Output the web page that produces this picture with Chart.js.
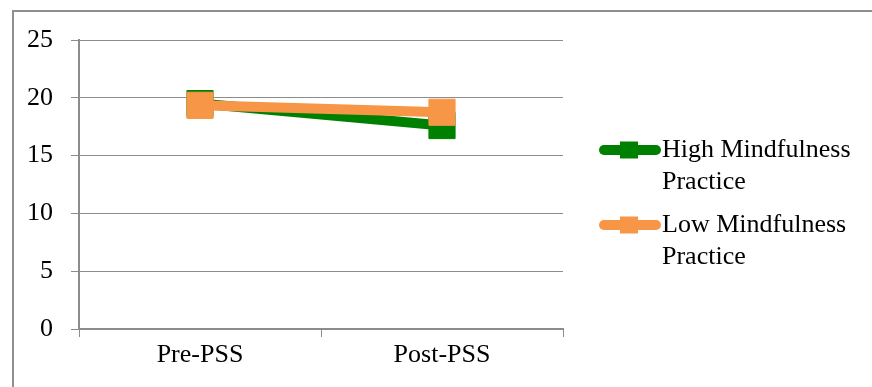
<!DOCTYPE html>
<html>
<head>
<meta charset="utf-8">
<script src="https://cdn.jsdelivr.net/npm/chart.js@4.4.1/dist/chart.umd.min.js"></script>
<style>
  html, body { margin: 0; padding: 0; background: #fff; }
  #wrap { width: 872px; height: 387px; }
</style>
</head>
<body>
<div id="wrap"><canvas id="pssChart" width="872" height="387"></canvas></div>
<script>
const categories = ["Pre-PSS", "Post-PSS"];
const seriesNames = ["High Mindfulness Practice", "Low Mindfulness Practice"];
const highValues = [19.5, 17.6];
const lowValues = [19.35, 18.75];
const yTicks = [0, 5, 10, 15, 20, 25];

const GREEN = "#008000";
const ORANGE = "#F79646";
const GRID = "#8c8c8c";
const FONT = "'Liberation Serif', 'Times New Roman', serif";

// outer frame of the chart box (only top and left edges are visible)
const framePlugin = {
  id: "frame",
  beforeDraw(chart) {
    const ctx = chart.ctx;
    ctx.save();
    ctx.strokeStyle = "#8f8f8f";
    ctx.lineWidth = 2;
    ctx.beginPath();
    ctx.moveTo(13, 400);
    ctx.lineTo(13, 11);
    ctx.lineTo(900, 11);
    ctx.stroke();
    ctx.restore();
  }
};

function wrapText(ctx, text, maxW) {
  const words = text.split(" ");
  const lines = [];
  let cur = "";
  words.forEach(w => {
    const test = cur ? cur + " " + w : w;
    if (ctx.measureText(test).width > maxW && cur) {
      lines.push(cur);
      cur = w;
    } else {
      cur = test;
    }
  });
  if (cur) lines.push(cur);
  return lines;
}

// legend on the right, drawn from the dataset settings
const sideLegend = {
  id: "sideLegend",
  afterDraw(chart) {
    const ctx = chart.ctx;
    const startY = [150, 225];
    ctx.save();
    ctx.font = "26px " + FONT;
    ctx.textBaseline = "middle";
    chart.data.datasets.forEach((ds, i) => {
      const y = startY[i];
      ctx.strokeStyle = ds.borderColor;
      ctx.lineWidth = 10;
      ctx.lineCap = "round";
      ctx.beginPath();
      ctx.moveTo(604, y);
      ctx.lineTo(656, y);
      ctx.stroke();
      ctx.fillStyle = ds.borderColor;
      ctx.fillRect(620, y - 8.5, 18, 17);
      ctx.fillStyle = "#000";
      const lines = wrapText(ctx, ds.label, 205);
      lines.forEach((ln, j) => ctx.fillText(ln, 662, y + j * 32));
    });
    ctx.restore();
  }
};

const ctx = document.getElementById("pssChart").getContext("2d");
new Chart(ctx, {
  type: "line",
  data: {
    labels: categories,
    datasets: [
      {
        label: seriesNames[0],
        data: highValues,
        borderColor: GREEN,
        backgroundColor: GREEN,
        borderWidth: 10,
        pointStyle: "rect",
        pointRadius: 18.5,
        pointBorderWidth: 1,
        pointBackgroundColor: GREEN,
        pointBorderColor: GREEN,
        order: 1
      },
      {
        label: seriesNames[1],
        data: lowValues,
        borderColor: ORANGE,
        backgroundColor: ORANGE,
        borderWidth: 10,
        pointStyle: "rect",
        pointRadius: 18.5,
        pointBorderWidth: 1,
        pointBackgroundColor: ORANGE,
        pointBorderColor: ORANGE,
        order: 0
      }
    ]
  },
  options: {
    responsive: false,
    animation: false,
    layout: { padding: { left: 0, right: 309, top: 40, bottom: 0 } },
    plugins: {
      legend: { display: false },
      tooltip: { enabled: false }
    },
    scales: {
      x: {
        offset: true,
        grid: {
          display: true,
          offset: true,
          drawOnChartArea: false,
          drawTicks: true,
          tickLength: 8,
          color: GRID,
          lineWidth: 1
        },
        border: { display: true, color: GRID, width: 2 },
        ticks: {
          color: "#000",
          font: { family: FONT, size: 26 },
          padding: 3,
          maxRotation: 0
        },
        afterFit(scale) { scale.height = 58; }
      },
      y: {
        min: 0,
        max: 25,
        afterBuildTicks(scale) {
          scale.ticks = yTicks.map(v => ({ value: v }));
        },
        grid: {
          color: GRID,
          lineWidth: 1,
          drawTicks: true,
          tickLength: 8
        },
        border: { display: true, color: GRID, width: 2 },
        ticks: {
          color: "#000",
          font: { family: FONT, size: 26 },
          padding: 18
        },
        afterFit(scale) { scale.width = 79; }
      }
    }
  },
  plugins: [framePlugin, sideLegend]
});
</script>
</body>
</html>
